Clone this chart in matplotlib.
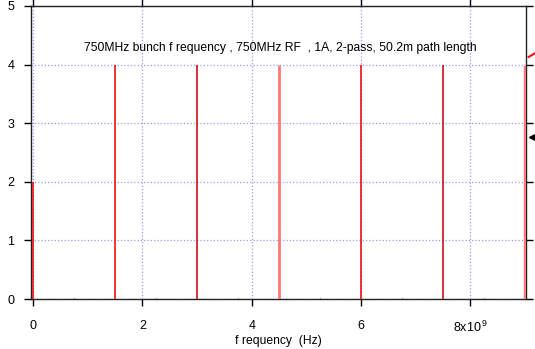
import matplotlib
matplotlib.use('Agg')
import matplotlib.pyplot as plt

plt.rcParams['font.family'] = ['Liberation Sans', 'DejaVu Sans']
plt.rcParams['mathtext.fontset'] = 'custom'
plt.rcParams['mathtext.rm'] = 'Liberation Sans'
plt.rcParams['mathtext.it'] = 'Liberation Sans'

# main lines (Hz, amplitude)
freq = [0.0, 1.5e9, 3.0e9, 4.5e9, 6.0e9, 7.5e9, 9.0e9]
amp = [2, 4, 4, 4, 4, 4, 4]
col = ['#ee1111', '#ee1111', '#c8101a', '#ff7878', '#ee1111', '#c8101a', '#ff7878']
lw = [1.2, 1.2, 1.2, 2.0, 1.2, 1.2, 2.5]

# tiny stubs between lines
stub_freq = [0.75e9, 2.25e9, 3.75e9, 5.25e9, 6.75e9, 8.25e9]
stub_amp = [0.02, 0.02, 0.02, 0.02, 0.02, 0.02]

xticks = [0, 2e9, 4e9, 6e9, 8e9]
xticklabels = ['0', '2', '4', '6', '8x10$^{\\,9}$']
yticks = [0, 1, 2, 3, 4, 5]

title = '750MHz bunch f requency , 750MHz RF  , 1A, 2-pass, 50.2m path length'

fig = plt.figure(figsize=(5.35, 3.49), dpi=100)
ax = fig.add_axes([0.058, 0.143, 0.925, 0.84])

ax.vlines(freq, 0, amp, colors=col, linewidths=lw, zorder=3)
ax.vlines(stub_freq, 0, stub_amp, colors='#ee1111', linewidths=1, zorder=3)

ax.set_xlim(-0.04e9, 9.02e9)
ax.set_ylim(0, 5)
ax.set_xticks(xticks)
ax.set_xticklabels(xticklabels)
ax.set_yticks(yticks)
ax.tick_params(direction='out', top=True, right=True, length=5, width=1,
               labelsize=9)
ax.tick_params(axis='x', pad=10)
ax.tick_params(axis='y', pad=7)
ax.grid(True, color='#9a9aff', linestyle=':', linewidth=0.9)
for s in ax.spines.values():
    s.set_linewidth(1)
    s.set_color('#222222')

ax.set_xlabel('f requency  (Hz)', fontsize=8.7, labelpad=0)
ax.text(0.503, 0.857, title, transform=ax.transAxes, ha='center', va='center',
        fontsize=8.7)

# bits of arrows cut off at the right edge
ax.plot([9.07e9, 9.2e9], [4.13, 4.2], color='#ee1111', lw=1.5, clip_on=False)
ax.plot([9.13e9], [2.76], marker='<', color='black', markersize=4, clip_on=False)

fig.savefig('out.png', dpi=100)
